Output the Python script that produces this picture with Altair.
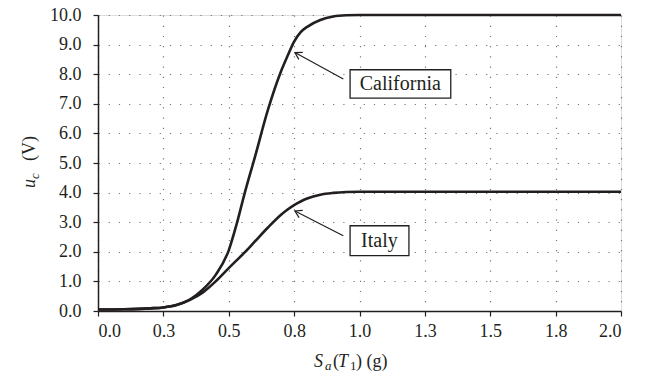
import altair as alt
import pandas as pd

# ---- data ----
x_vals = [0.0, 0.1, 0.2, 0.25, 0.3, 0.35, 0.4, 0.45, 0.5, 0.53, 0.56, 0.6, 0.65,
          0.7, 0.725, 0.75, 0.775, 0.8, 0.85, 0.9, 0.95, 1.0, 1.25, 1.5, 1.75, 2.0]
california = [0.05, 0.06, 0.09, 0.12, 0.2, 0.38, 0.72, 1.22, 2.05, 2.93, 3.95, 5.2, 6.8,
              8.1, 8.62, 9.1, 9.42, 9.6, 9.83, 9.95, 9.99, 10.0, 10.0, 10.0, 10.0, 10.0]
italy = [0.05, 0.06, 0.09, 0.12, 0.2, 0.37, 0.62, 1.0, 1.45, 1.71, 1.97, 2.35, 2.82,
         3.25, 3.43, 3.58, 3.7, 3.8, 3.93, 3.99, 4.02, 4.03, 4.03, 4.03, 4.03, 4.03]

x_ticks = [0.0, 0.25, 0.5, 0.75, 1.0, 1.25, 1.5, 1.75, 2.0]
y_ticks = [0, 1, 2, 3, 4, 5, 6, 7, 8, 9, 10]

# annotations (data coordinates)
ann_names = ["California", "Italy"]
ann_tip_x = [0.753, 0.753]
ann_tip_y = [8.73, 3.38]
ann_tail_x = [0.938, 0.938]
ann_tail_y = [7.84, 2.54]
ann_angle = [209, 207]
box_x1 = [0.964, 0.964]
box_x2 = [1.349, 1.189]
box_y1 = [8.15, 2.88]
box_y2 = [7.19, 1.87]
text_x = [1.156, 1.076]
text_y = [7.67, 2.375]

INK = "#231f20"
FONT = "Liberation Serif"

rows = []
for xv, c, i in zip(x_vals, california, italy):
    rows.append({"x": xv, "y": c, "series": "California"})
    rows.append({"x": xv, "y": i, "series": "Italy"})
df = pd.DataFrame(rows)

ann = pd.DataFrame({
    "name": ann_names, "tx": ann_tip_x, "ty": ann_tip_y, "sx": ann_tail_x, "sy": ann_tail_y,
    "angle": ann_angle, "bx1": box_x1, "bx2": box_x2, "by1": box_y1, "by2": box_y2,
    "lx": text_x, "ly": text_y,
})

xscale = alt.Scale(domain=[0, 2], nice=False, zero=False)
yscale = alt.Scale(domain=[0, 10], nice=False)

xaxis = alt.Axis(values=x_ticks, format=".1f", title=None, grid=True,
                 gridColor="#777", gridDash=[1.2, 9], gridWidth=1.2,
                 domainColor=INK, domainWidth=1.5, tickColor=INK, tickWidth=1.2,
                 tickSize=5, labelPadding=6, labelFont=FONT, labelFontSize=18,
                 labelColor=INK, labelOverlap=False)
yaxis = alt.Axis(values=y_ticks, format=".1f", title=None, grid=True,
                 gridColor="#777", gridDash=[1.2, 9], gridWidth=1.2,
                 domainColor=INK, domainWidth=1.5, tickColor=INK, tickWidth=1.2,
                 tickSize=5, labelPadding=12, labelFont=FONT, labelFontSize=18,
                 labelColor=INK, labelOverlap=False)

X = lambda f: alt.X(f, type="quantitative", scale=xscale, axis=xaxis)
Y = lambda f: alt.Y(f, type="quantitative", scale=yscale, axis=yaxis)

lines = alt.Chart(df).mark_line(color=INK, strokeWidth=2.6, interpolate="monotone").encode(
    x=X("x"), y=Y("y"), detail="series:N",
)

base = alt.Chart(ann)
arrows = base.mark_rule(color=INK, strokeWidth=1.2).encode(
    x=X("sx"), y=Y("sy"), x2="tx:Q", y2="ty:Q",
)
heads = base.mark_point(shape="M -1 -0.6 L 0 0 L -1 0.6", filled=False, size=180,
                        color=INK, strokeWidth=1.2, opacity=1).encode(
    x=X("tx"), y=Y("ty"), angle=alt.Angle("angle:Q", scale=None),
)
boxes = base.mark_rect(fill="white", stroke=INK, strokeWidth=1.3).encode(
    x=X("bx1"), x2="bx2:Q", y=Y("by1"), y2="by2:Q",
)
labels = base.mark_text(font=FONT, fontSize=20, color=INK, align="center",
                        baseline="middle").encode(
    x=X("lx"), y=Y("ly"), text="name:N",
)

# composed axis titles (pixel positions relative to the plot area)
def txt(s, x, y, size=18, italic=False, angle=0):
    kw = dict(font=FONT, fontSize=size, color=INK, align="left", baseline="alphabetic",
              text=s)
    if italic:
        kw["fontStyle"] = "italic"
    if angle:
        kw["angle"] = angle
    return alt.Chart(ann.head(1)).mark_text(**kw).encode(
        x=alt.value(x), y=alt.value(y))

H = 296
xt = [
    txt("S", 216, H + 56, italic=True),
    txt("a", 227, H + 59, size=13, italic=True),
    txt("(", 235, H + 56),
    txt("T", 240, H + 56, italic=True),
    txt("1", 252, H + 59, size=13),
    txt(") (g)", 258, H + 56),
]
yt = [
    txt("u", -63, 173, italic=True, angle=270),
    txt("c", -59, 164, size=13, italic=True, angle=270),
    txt("(V)", -63, 146, angle=270),
]

chart = alt.layer(lines, arrows, heads, boxes, labels, *xt, *yt).properties(
    width=523, height=H,
    autosize=alt.AutoSizeParams(type="none"),
    padding={"left": 90, "top": 7, "right": 24, "bottom": 62},
).configure_view(stroke="#555", strokeWidth=1.2).configure_axis(
    labelOverlap=False
).configure(background="white")

chart.save("out.html", embed_options={"renderer": "svg", "actions": False})
